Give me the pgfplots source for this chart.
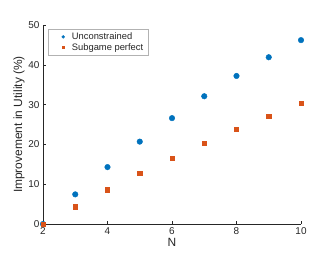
\documentclass[border=0pt]{standalone}
\usepackage{pgfplots}
\pgfplotsset{compat=1.18}
\usepackage{fontspec}
\setmainfont{Liberation Sans}
\definecolor{mblue}{rgb}{0,0.447,0.741}
\definecolor{morange}{rgb}{0.85,0.325,0.098}
\definecolor{axgray}{rgb}{0.15,0.15,0.15}
\begin{document}
\begin{tikzpicture}
\begin{axis}[
  scale only axis,
  width=258bp, height=199bp,
  xmin=2, xmax=10, ymin=0, ymax=50,
  xtick={2,4,6,8,10}, ytick={0,10,20,30,40,50},
  axis lines*=left,
  axis line style={axgray, line width=0.5pt},
  tick style={axgray, line width=0.5pt},
  tick align=inside,
  major tick length=3bp,
  tick label style={font=\fontsize{10}{12}\selectfont, text=axgray},
  /pgf/number format/assume math mode=true,
  xlabel={N}, ylabel={Improvement in Utility (\%)},
  label style={font=\fontsize{12}{14}\selectfont, text=axgray},
  xlabel style={yshift=3bp},
  ylabel style={yshift=-3bp},
  legend style={at={(rel axis cs:0.018,0.98)}, anchor=north west,
    font=\fontsize{9.4}{11}\selectfont, draw=gray!60, line width=0.5pt,
    inner xsep=4bp, inner ysep=1.5bp, row sep=-1.5bp, text=axgray,
    nodes={inner xsep=1.5bp}},
  legend image code/.code={\path (0bp,0bp) (18bp,0bp);
    \draw[#1] plot coordinates {(11bp,0bp)};},
  legend cell align=left,
  clip=false,
]
\addplot[only marks, mark=*, mark size=2.8bp, color=mblue,
  mark options={draw=mblue, fill=mblue},
  legend image post style={mark size=1.4bp}]
  coordinates {(2,0) (3,7.45) (4,14.3) (5,20.7) (6,26.6) (7,32.1) (8,37.2) (9,41.9) (10,46.2)};
\addlegendentry{Unconstrained}
\addplot[only marks, mark=square*, mark size=2.15bp, color=morange,
  mark options={draw=morange, fill=morange},
  legend image post style={mark size=1.1bp}]
  coordinates {(2,0) (3,4.35) (4,8.6) (5,12.7) (6,16.5) (7,20.3) (8,23.8) (9,27.1) (10,30.3)};
\addlegendentry{Subgame perfect}
\end{axis}
\path ([shift={(-43bp,-38bp)}]current axis.south west) rectangle ([shift={(31bp,25bp)}]current axis.north east);
\end{tikzpicture}
\end{document}
